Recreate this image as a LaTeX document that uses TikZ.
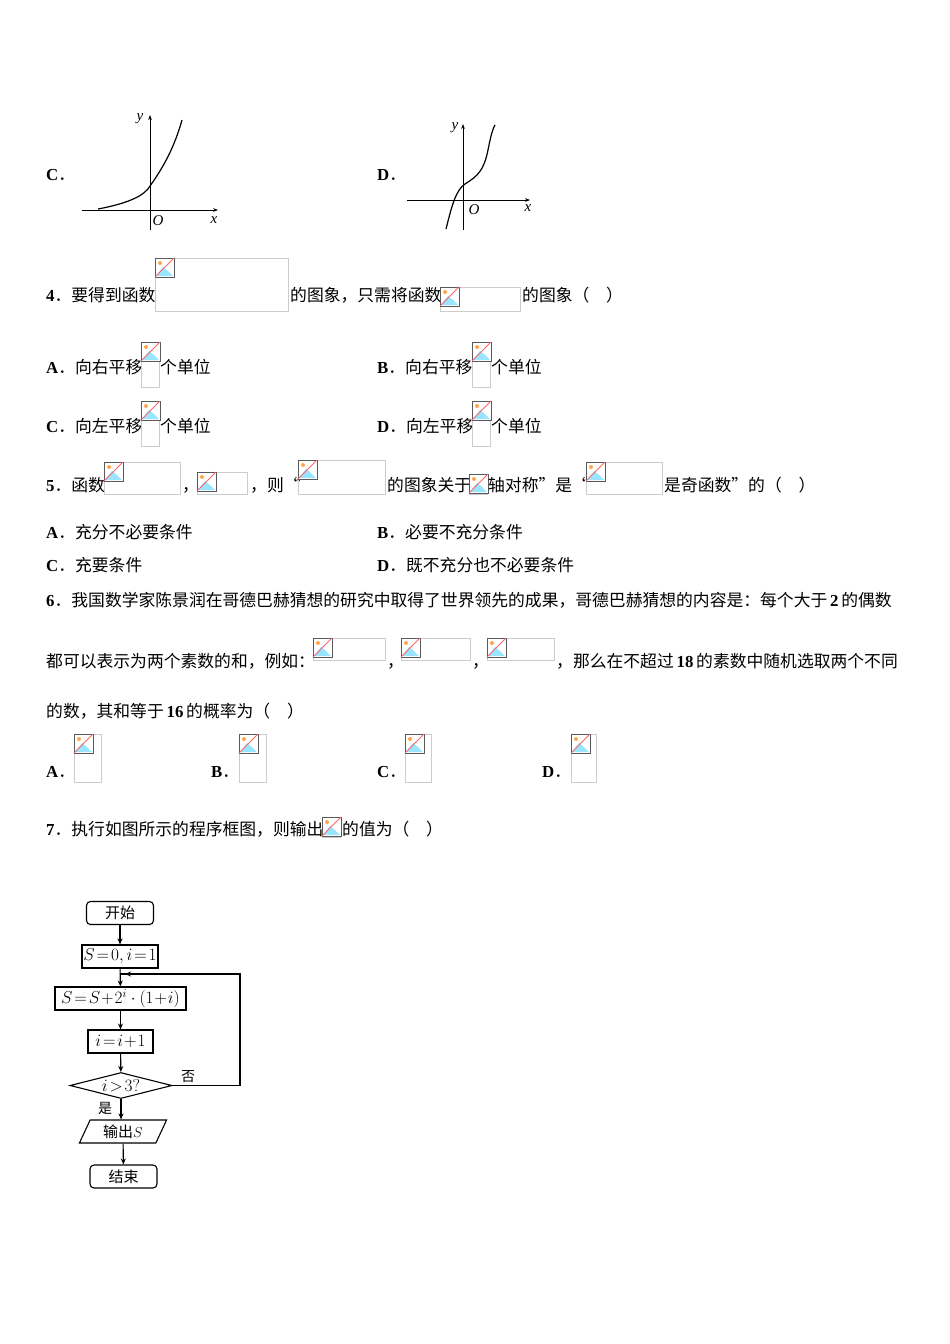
\documentclass[tikz,border=0pt]{standalone}
\usepackage{fontspec}
\setmainfont{Liberation Serif}
\newfontfamily\cjk{Noto Sans CJK SC}
\newfontfamily\lsb{Liberation Serif}[BoldFont={Liberation Serif Bold}]
\usetikzlibrary{shapes.geometric,arrows.meta,calc}
\newcommand{\B}[1]{{\lsb\bfseries #1}}
\newcommand{\phbox}[4]{%
 \draw[gray!40,line width=0.8] (#1,#2) rectangle (#3,#4);
 \fill[white] (#1,#2) rectangle ++(19,19);
 \fill[blue!25!cyan!40] (#1+1,#2+18) -- (#1+8,#2+9) -- (#1+13,#2+13) -- (#1+18,#2+18) -- cycle;
 \fill[orange!70] (#1+5,#2+5) circle (2);
 \draw[gray!70!black,line width=0.8] (#1,#2) rectangle ++(19,19);
 \draw[red!60,line width=1] (#1+19,#2) -- (#1,#2+19);
}
\tikzset{t/.style={anchor=base west,inner sep=0,font=\fontsize{16.8}{18}\selectfont\cjk},
 fb/.style={draw,line width=1.1,inner sep=0,minimum height=23,font=\fontsize{17}{18}\selectfont},
 ar/.style={-{Stealth[length=6,width=5]},line width=1.1},
 ax/.style={font=\itshape\fontsize{15}{15}\selectfont}}
\begin{document}
\begin{tikzpicture}[x=1pt,y=-1pt]
\useasboundingbox (0,0) rectangle (950,1344);
% graph C
\node[t] (lc) at (46,180) {\B{C}．};
\draw[-{Stealth[length=5]},line width=0.8] (82,210) -- (218,210);
\draw[-{Stealth[length=5]},line width=0.8] (150,230) -- (150,115);
\draw[line width=1.2] (98,209) .. controls (130,203) and (145,195) .. (150,186) .. controls (165,165) and (175,145) .. (182,120);
\node[ax] (yc) at (140,119) {y};
\node[ax] (xc) at (214,220) {x};
\node[ax] (oc) at (158,221) {O};
% graph D
\node[t] (ld) at (377,180) {\B{D}．};
\draw[-{Stealth[length=5]},line width=0.8] (407,200) -- (530,200);
\draw[-{Stealth[length=5]},line width=0.8] (463,230) -- (463,124);
\draw[line width=1.2] (446,229) .. controls (452,205) and (456,190) .. (465,184) .. controls (478,176) and (484,170) .. (488,150) .. controls (490,140) and (492,130) .. (495,125);
\node[ax] (yd) at (455,128) {y};
\node[ax] (xd) at (528,208) {x};
\node[ax] (od) at (474,210) {O};
% Q4
\node[t] (q4a) at (46,301) {\B{4}．要得到函数};
\phbox{155}{258}{288}{311}
\node[t] (q4b) at (290,301) {的图象，只需将函数};
\phbox{440}{287}{520}{311}
\node[t] (q4c) at (522,301) {的图象（　）};
\node[t] (a4) at (46,373) {\B{A}．向右平移};
\phbox{141}{342}{159}{387}
\node[t] (a4b) at (160,373) {个单位};
\node[t] (b4) at (377,373) {\B{B}．向右平移};
\phbox{472}{342}{490}{387}
\node[t] (b4b) at (491,373) {个单位};
\node[t] (c4) at (46,432) {\B{C}．向左平移};
\phbox{141}{401}{159}{446}
\node[t] (c4b) at (160,432) {个单位};
\node[t] (d4) at (377,432) {\B{D}．向左平移};
\phbox{472}{401}{490}{446}
\node[t] (d4b) at (491,432) {个单位};
% Q5
\node[t] (q5a) at (46,491) {\B{5}．函数};
\phbox{104}{462}{180}{494}
\node[t] (q5b) at (182,491) {，};
\phbox{197}{472}{247}{494}
\node[t] (q5c) at (250,491) {，则“};
\phbox{298}{460}{385}{494}
\node[t] (q5d) at (387,491) {的图象关于};
\phbox{469}{474}{487}{494}
\node[t] (q5e) at (488,491) {轴对称”是“};
\phbox{586}{462}{662}{494}
\node[t] (q5f) at (664,491) {是奇函数”的（　）};
\node[t] (a5) at (46,538) {\B{A}．充分不必要条件};
\node[t] (b5) at (377,538) {\B{B}．必要不充分条件};
\node[t] (c5) at (46,571) {\B{C}．充要条件};
\node[t] (d5) at (377,571) {\B{D}．既不充分也不必要条件};
% Q6
\node[t] (q6a) at (46,606) {\B{6}．我国数学家陈景润在哥德巴赫猜想的研究中取得了世界领先的成果，哥德巴赫猜想的内容是：每个大于\,\B{2}\,的偶数};
\node[t] (q6b) at (46,667) {都可以表示为两个素数的和，例如：};
\phbox{313}{638}{385}{660}
\node[t] (q6c) at (387,667) {，};
\phbox{401}{638}{470}{660}
\node[t] (q6d) at (472,667) {，};
\phbox{487}{638}{554}{660}
\node[t] (q6e) at (556,667) {，那么在不超过\,\B{18}\,的素数中随机选取两个不同};
\node[t] (q6f) at (46,717) {的数，其和等于\,\B{16}\,的概率为（　）};
\node[t] (a6) at (46,777) {\B{A}．};
\phbox{74}{734}{101}{782}
\node[t] (b6) at (211,777) {\B{B}．};
\phbox{239}{734}{266}{782}
\node[t] (c6) at (377,777) {\B{C}．};
\phbox{405}{734}{431}{782}
\node[t] (d6) at (542,777) {\B{D}．};
\phbox{571}{734}{596}{782}
% Q7
\node[t] (q7a) at (46,835) {\B{7}．执行如图所示的程序框图，则输出};
\phbox{322}{817}{340}{837}
\node[t] (q7b) at (342,835) {的值为（　）};
% flowchart
\node[fb,rounded corners=4,minimum width=67,font=\fontsize{15}{16}\selectfont\cjk] (st) at (120,913) {开始};
\node[fb,minimum width=76] (init) at (120,956.5) {$S\!=\!0,i\!=\!1$};
\node[fb,minimum width=131] (upd) at (120.5,998.5) {$S\!=\!S\!+\!2^i\cdot(1\!+\!i)$};
\node[fb,minimum width=65] (inc) at (120.5,1041.5) {$i\!=\!i\!+\!1$};
\node[fb,diamond,aspect=4,minimum width=102,minimum height=26] (dec) at (121,1085.5) {$i\!>\!3?$};
\node[fb,trapezium,trapezium left angle=65,trapezium right angle=115,minimum width=70,font=\fontsize{15}{16}\selectfont\cjk] (out) at (123,1131.5) {输出$S$};
\node[fb,rounded corners=4,minimum width=67,font=\fontsize{15}{16}\selectfont\cjk] (en) at (123.5,1176.5) {结束};
\coordinate (lp1) at (240,1085.5);
\coordinate (lp2) at (240,974);
\coordinate (lp3) at (121,974);
\draw[ar] (st) -- (init);
\draw[ar] (init) -- (upd);
\draw[ar] (upd) -- (inc);
\draw[ar] (inc) -- (dec);
\draw[ar] (dec.south) -- (out.north -| dec.south);
\draw[ar] (out) -- (en);
\draw[line width=1.1] (dec.east) -- (lp1) -- (lp2) -- (lp3);
\draw[-{Stealth[length=6,width=5]},line width=1.1] (lp2) -- ($(lp3)+(4,0)$);
\node[font=\fontsize{14}{15}\selectfont\cjk] (no) at (188,1077) {否};
\node[font=\fontsize{14}{15}\selectfont\cjk] (yes) at (105,1108) {是};
\end{tikzpicture}
\end{document}
